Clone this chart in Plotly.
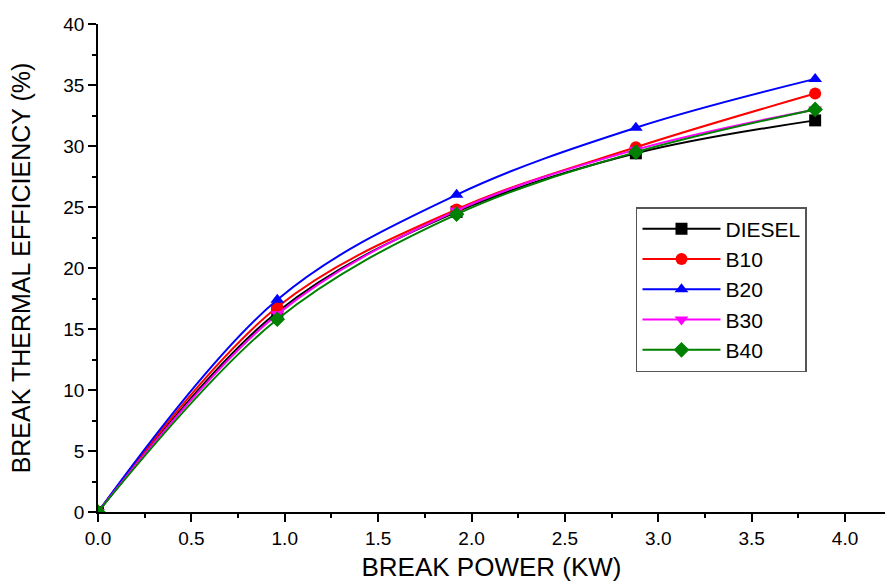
import plotly.graph_objects as go

power = [0.0, 0.96, 1.92, 2.88, 3.84]
diesel = [0.0, 16.4, 24.6, 29.4, 32.1]
b10 = [0.0, 16.8, 24.8, 29.9, 34.3]
b20 = [0.0, 17.4, 26.0, 31.5, 35.5]
b30 = [0.0, 16.2, 24.7, 29.7, 33.0]
b40 = [0.0, 15.8, 24.4, 29.5, 33.0]

series = [
    ("DIESEL", diesel, "black", "square"),
    ("B10", b10, "red", "circle"),
    ("B20", b20, "blue", "triangle-up"),
    ("B30", b30, "magenta", "triangle-down"),
    ("B40", b40, "green", "diamond"),
]

fig = go.Figure()
for name, vals, col, sym in series:
    fig.add_trace(go.Scatter(
        x=power, y=vals, name=name, mode="lines+markers",
        line=dict(color=col, width=2, shape="spline", smoothing=1.0),
        marker=dict(color=col, symbol=sym, size=12),
    ))

font = "Liberation Sans, Arial, sans-serif"
fig.update_layout(
    width=885, height=582,
    margin=dict(l=98, r=0, t=24, b=70),
    paper_bgcolor="white", plot_bgcolor="white",
    font=dict(family=font, color="black"),
    showlegend=True,
    legend=dict(
        x=0.6836, y=0.625, xanchor="left", yanchor="top",
        bordercolor="#555", borderwidth=1.5,
        font=dict(size=21, family=font),
        itemwidth=78, tracegroupgap=0,
    ),
    xaxis=dict(
        range=[0, 4.214], showgrid=False, zeroline=False, automargin=False,
        showline=True, linecolor="black", linewidth=1.5,
        ticks="outside", ticklen=8, tickwidth=1.5, tickcolor="black",
        tick0=0, dtick=0.5, tickformat=".1f",
        minor=dict(ticks="outside", ticklen=4, dtick=0.25, tickcolor="black", tickwidth=1.5),
        tickfont=dict(size=19),
        title=dict(text="BREAK POWER (KW)", font=dict(size=26), standoff=20),
    ),
    yaxis=dict(
        range=[0, 40], showgrid=False, zeroline=False, automargin=False,
        showline=True, linecolor="black", linewidth=1.5,
        ticks="outside", ticklen=8, tickwidth=1.5, tickcolor="black",
        tick0=0, dtick=5,
        minor=dict(ticks="outside", ticklen=4, dtick=2.5, tickcolor="black", tickwidth=1.5),
        tickfont=dict(size=19),
        title=dict(text="BREAK THERMAL EFFICIENCY (%)", font=dict(size=25), standoff=26),
    ),
)

fig.write_html("out.html", config={"displayModeBar": False},
               post_script="document.body.style.margin='0';")
